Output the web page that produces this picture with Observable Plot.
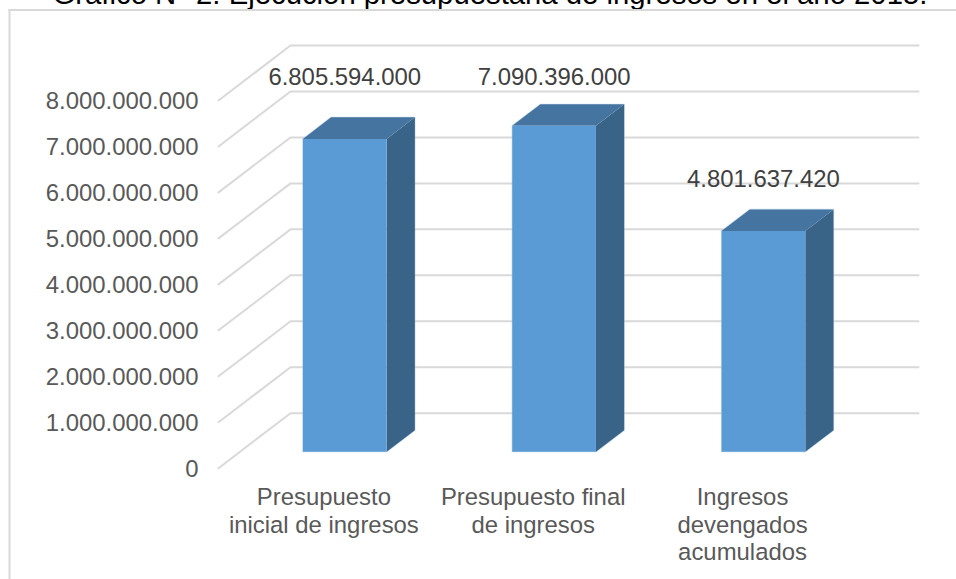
<!DOCTYPE html>
<html lang="es">
<head>
<meta charset="utf-8">
<script src="https://cdn.jsdelivr.net/npm/d3@7"></script>
<script src="https://cdn.jsdelivr.net/npm/@observablehq/plot@0.6"></script>
<style>
  html, body { margin: 0; padding: 0; background: #fff; overflow: hidden; }
  svg { display: block; }
</style>
</head>
<body>
<div id="chart"></div>
<script>
const chartTitle = "Gráfico N° 2: Ejecución presupuestaria de ingresos en el año 2015.";
const categories = [
  ["Presupuesto", "inicial de ingresos"],
  ["Presupuesto final", "de ingresos"],
  ["Ingresos", "devengados", "acumulados"]
];
const values = [6805594000, 7090396000, 4801637420];
const valueTicks = [0, 1e9, 2e9, 3e9, 4e9, 5e9, 6e9, 7e9, 8e9];

// Oblique projection: how far one full unit of depth shifts a point,
// in category widths across and in budget units up.
const depthX = 0.344;
const depthY = 1.196e9;
// Where the bars stand inside the depth of the floor, and how deep they are.
const barNear = 0.3;
const barFar = 0.692;
// Bar width as a share of a category's width.
const barWidth = 0.4;
// Each value label sits at its own hand-placed distance above its bar.
const labelLift = [77.7, 64.6, 67.8];

const esLocale = d3.formatLocale({decimal: ",", thousands: ".", grouping: [3], currency: ["", " €"]});
const fmt = esLocale.format(",d");

const project = (cx, v, z) => ({x: cx + z * depthX, y: v + z * depthY});

// Gridlines: a diagonal along the side wall, then a straight run along the back wall.
const gridRows = valueTicks.flatMap((v) => [
  {tick: v, ...project(0, v, 0)},
  {tick: v, ...project(0, v, 1)},
  {tick: v, ...project(categories.length, v, 1)}
]);

const closedPolygon = (pts) => [...pts, pts[0]].map(([cx, val, z]) => project(cx, val, z));

const faceColors = {front: "#5b9bd5", top: "#44749f", side: "#3a6487"};

// Every bar: a faint outline around its silhouette, then three flat faces.
const barMarks = values.flatMap((v, i) => {
  const l = i + 0.5 - barWidth / 2;
  const r = i + 0.5 + barWidth / 2;
  const outline = closedPolygon([
    [l, 0, barNear], [r, 0, barNear], [r, 0, barFar], [r, v, barFar], [l, v, barFar], [l, v, barNear]
  ]);
  const faces = {
    side: closedPolygon([[r, 0, barNear], [r, 0, barFar], [r, v, barFar], [r, v, barNear]]),
    top: closedPolygon([[l, v, barNear], [r, v, barNear], [r, v, barFar], [l, v, barFar]]),
    front: closedPolygon([[l, 0, barNear], [r, 0, barNear], [r, v, barNear], [l, v, barNear]])
  };
  return [
    Plot.line(outline, {x: "x", y: "y", stroke: "#a9c8e6", strokeWidth: 1.2, strokeOpacity: 0.6}),
    ...Object.entries(faces).map(([name, pts]) =>
      Plot.line(pts, {x: "x", y: "y", fill: faceColors[name], stroke: "none"})
    )
  ];
});

const valueLabelMarks = values.map((v, i) =>
  Plot.text([v], {
    x: () => project(i + 0.5, v, barNear).x,
    y: (d) => d,
    text: (d) => fmt(d),
    dy: -labelLift[i],
    fontSize: 23.9,
    fill: "#404040"
  })
);

const categoryLabels = categories.map((lines, i) => ({text: lines.join("\n"), cx: i + 0.5}));

const chart = Plot.plot({
  width: 956,
  height: 579,
  marginLeft: 9,
  marginTop: 9.5,
  marginRight: 0,
  marginBottom: 0,
  style: {fontFamily: "'Liberation Sans', Arial, sans-serif", background: "#fff", overflow: "hidden"},
  x: {type: "linear", domain: [0, 3 + depthX], range: [218, 918], axis: null},
  y: {type: "linear", domain: [0, 8e9 + depthY], range: [467.7, 45], axis: null},
  marks: [
    Plot.text([chartTitle], {
      frameAnchor: "top-left", dx: 43, dy: -26.8, fontSize: 29.3, fill: "#000", textAnchor: "start", lineAnchor: "top"
    }),
    Plot.frame({anchor: "left", stroke: "#d9d9d9", strokeWidth: 2}),
    Plot.frame({anchor: "top", stroke: "#d9d9d9", strokeWidth: 2}),
    Plot.line(gridRows, {x: "x", y: "y", z: "tick", stroke: "#d9d9d9", strokeWidth: 2}),
    ...barMarks,
    Plot.axisY(valueTicks, {
      anchor: "left", tickSize: 0, tickPadding: 0, dx: 189, dy: 1,
      tickFormat: (d) => fmt(d), fontSize: 23.9, color: "#595959", label: null
    }),
    ...valueLabelMarks,
    Plot.text(categoryLabels, {
      x: "cx", y: 0, text: "text", lineAnchor: "top", dx: 0.7, dy: 17.5, fontSize: 23.9, lineHeight: 1.146, fill: "#595959"
    })
  ]
});
document.getElementById("chart").append(chart);
</script>
</body>
</html>
